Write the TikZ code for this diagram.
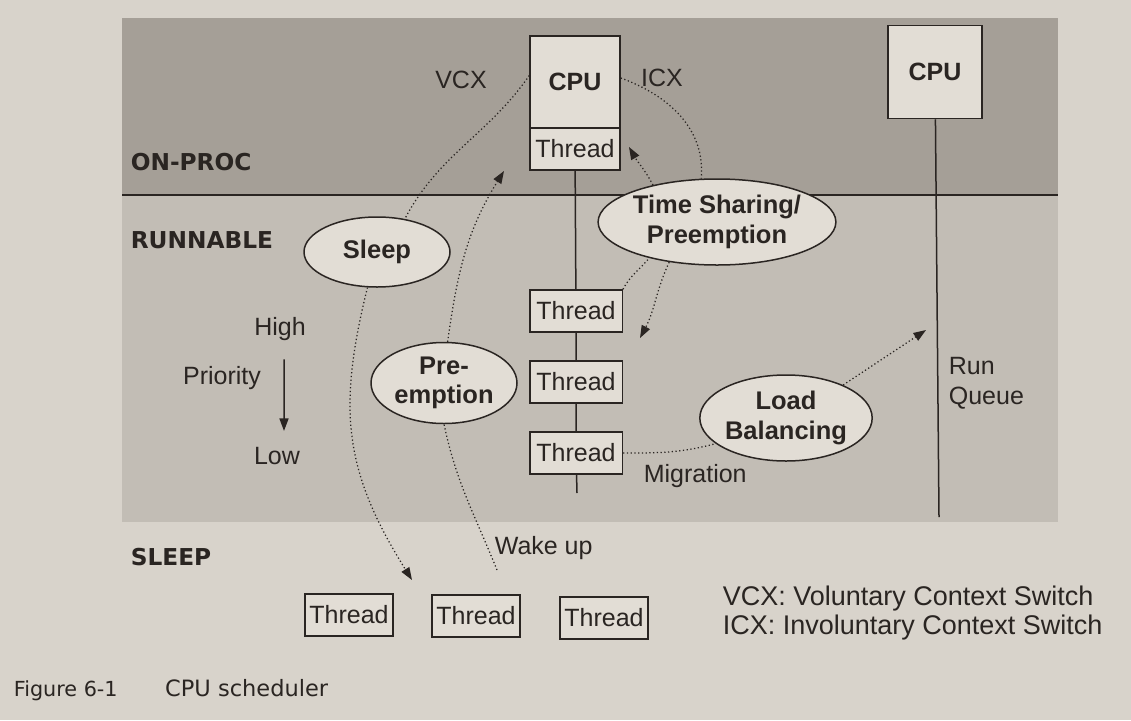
\documentclass[tikz,border=0pt]{standalone}
\usepackage{fontspec}
\setmainfont{Liberation Sans}
\newfontfamily\statefont{DejaVu Sans}
\usetikzlibrary{shapes.geometric, arrows.meta, positioning, calc}
\definecolor{paper}{HTML}{D8D3CB}
\definecolor{runband}{HTML}{C2BDB5}
\definecolor{procband}{HTML}{A59F97}
\definecolor{boxfill}{HTML}{E2DDD5}
\definecolor{ink}{HTML}{2A2522}
\tikzset{
  threadbox/.style={draw=ink, line width=0.6pt, fill=boxfill, minimum width=36pt, minimum height=16.8pt, inner sep=0pt, font=\fontsize{10}{12}\selectfont},
  cpubox/.style={draw=ink, line width=0.6pt, fill=boxfill, minimum width=36pt, minimum height=36.8pt, inner sep=0pt, font=\fontsize{10}{12}\selectfont\bfseries},
  action/.style={ellipse, draw=ink, line width=0.6pt, fill=boxfill, inner sep=0pt, align=center, font=\fontsize{10.2}{11.8}\selectfont\bfseries},
  statelbl/.style={anchor=west, font=\statefont\fontsize{9.3}{11}\selectfont\bfseries},
  switch/.style={ink, densely dotted, line width=0.5pt, -{Triangle[length=5pt, width=3.6pt]}},
  switchline/.style={ink, densely dotted, line width=0.5pt},
}
\begin{document}
\begin{tikzpicture}[x=0.4pt, y=-0.4pt, font=\fontsize{10}{12}\selectfont, text=ink]
    \useasboundingbox (0,0) rectangle (1131,720);
    % Paper and state bands
    \fill[paper] (0,0) rectangle (1131,720);
    \fill[procband] (122,18) rectangle (1058,195);
    \fill[runband]  (122,195) rectangle (1058,522);
    \draw[ink, line width=0.6pt] (122,195) -- (1058,195);
    % State names
    \node[statelbl] (onproc) at (122,162) {ON-PROC};
    \node[statelbl] (runnable) at (122,240) {RUNNABLE};
    \node[statelbl] (sleepstate) at (122,557) {SLEEP};
    % CPU with its run queue
    \node[cpubox] (cpu) at (575,82) {CPU};
    \node[threadbox] (onthread) at (575,149) {Thread};
    \foreach \qy [count=\qi] in {311,382,453} {
      \node[threadbox, minimum width=37pt] (q\qi) at (576,\qy) {Thread};
    }
    \coordinate (qend) at (577,493);
    \draw[ink, line width=0.6pt] (onthread) -- (q1) -- (q2) -- (q3) -- (qend);
    % Second CPU
    \node[cpubox, minimum width=37.6pt, minimum height=37.2pt] (cpu2) at (935,72) {CPU};
    \coordinate (rqend) at (939,517);
    \draw[ink, line width=0.6pt] (cpu2) -- (rqend);
    \node[anchor=west, align=left] (runqueue) at (940,383) {Run\\Queue};
    % Scheduler actions
    \node[action, minimum width=58.4pt, minimum height=28pt] (sleep) at (377,252) {Sleep};
    \node[action, minimum width=92pt, minimum height=34.4pt] (tshare) at (717,222) {Time Sharing/\\Preemption};
    \node[action, minimum width=58.4pt, minimum height=32.4pt] (preempt) at (444,383) {Pre-\\emption};
    \node[action, minimum width=62.4pt, minimum height=34.4pt] (lbal) at (786,418) {Load\\Balancing};
    % Labels
    \node (vcx) at (461,80) {VCX};
    \node (icx) at (662,78) {ICX};
    \node (high) at (280,329) {High};
    \node (priority) at (222,378) {Priority};
    \node (low) at (277,456) {Low};
    \draw[ink, line width=0.6pt, -{Triangle[length=5pt, width=3.6pt]}, shorten <=4pt, shorten >=3pt]
      ([xshift=1.6pt]high.south) -- ([xshift=2.8pt]low.north);
    \node[anchor=west] (migration) at (635,476) {Migration};
    \node[anchor=west] (wakelbl) at (486,548) {Wake up};
    % Sleeping threads
    \foreach \sx/\sy [count=\si] in {349/615,476/616,604/618} {
      \node[threadbox, minimum width=35.2pt] (slept\si) at (\sx,\sy) {Thread};
    }
    % Context switches
    \coordinate (sleepin) at (412,580);
    \coordinate (wakefrom) at (497,570);
    \coordinate (wakeup) at (504,171);
    \coordinate (icxin) at (640,338);
    \coordinate (tsup) at (629,147);
    \coordinate (lbout) at (926,330);
    \draw[switchline] (cpu.172) to[out=235, in=62] (sleep.50);
    \draw[switch] (sleep.255) to[out=256, in=122, looseness=1.1] (sleepin);
    \draw[switchline] (wakefrom) to[out=112, in=282] (preempt.south);
    \draw[switch] (preempt.85) to[out=82, in=238] (wakeup);
    \draw[switchline] (cpu.5) to[out=-20, in=85] (tshare.110);
    \draw[switch] (tshare.220) to[out=245, in=62] (icxin);
    \draw[switchline] (q1.north east) to[out=62, in=230] (tshare.208);
    \draw[switch] (tshare.150) to[out=118, in=300] (tsup);
    \draw[switchline] (q3.east) to[out=0, in=195] (lbal.200);
    \draw[switch] (lbal.30) -- (lbout);
    % Key and caption
    \node[anchor=west, font=\fontsize{10.8}{13}\selectfont] (vcxkey) at (714,599) {VCX: Voluntary Context Switch};
    \node[anchor=west, font=\fontsize{10.8}{13}\selectfont] (icxkey) at (714,628) {ICX: Involuntary Context Switch};
    \node[anchor=west, font=\statefont\fontsize{8.3}{10}\selectfont] (caption) at (5,690) {Figure 6-1\hspace{19pt}{\fontsize{9}{10}\selectfont CPU scheduler}};
\end{tikzpicture}
\end{document}
